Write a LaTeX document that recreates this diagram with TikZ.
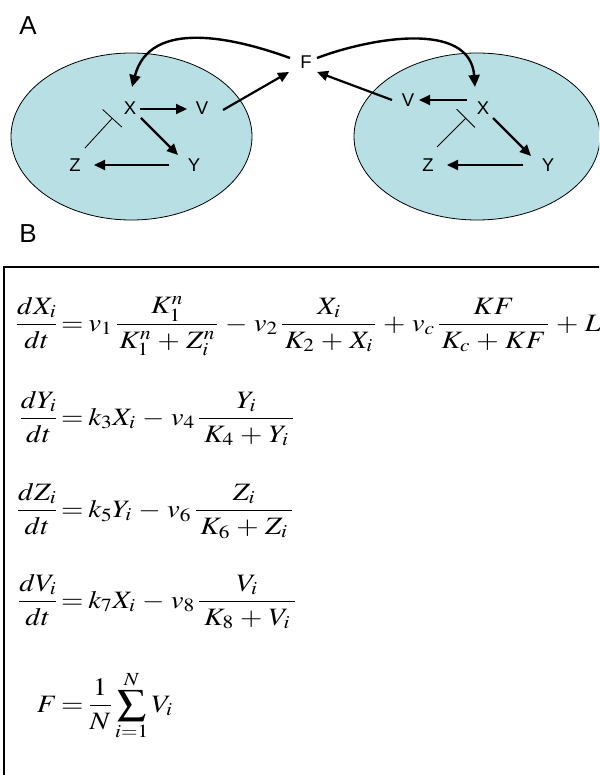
\documentclass[tikz,border=0pt]{standalone}
\usepackage{graphicx}
\usepackage{mathptmx}
\usepackage[no-math]{fontspec}
\newfontfamily\arial{Liberation Sans}
\usetikzlibrary{arrows.meta,calc}
\definecolor{cellfill}{RGB}{184,223,227}
\newcommand{\mfr}[2]{\frac{\mkern3mu #1\mkern3mu}{\mkern3mu #2\mkern3mu}}
\newcommand{\mfrs}[2]{\frac{\mkern1.5mu #1\mkern1.5mu}{\mkern1.5mu #2\mkern1.5mu}}
\newcommand{\eqx}[1]{\scalebox{1.15}[1]{$\displaystyle\medmuskip=4mu\thickmuskip=3mu #1$}}
\begin{document}
\begin{tikzpicture}[x=1pt,y=-1pt,
  lbl/.style={font=\arial\fontsize{18.5}{20}\selectfont, inner sep=0pt},
  big/.style={font=\arial\fontsize{26}{30}\selectfont, inner sep=0pt},
  act/.style={line width=2.2pt, -{Triangle[length=11pt,width=10pt]}},
  fb/.style={line width=2.4pt, -{Triangle[length=12pt,width=11pt]}},
  inhib/.style={line width=0.8pt, -{Bar[width=26pt,line width=0.8pt]}},
  cell/.style={draw=black, line width=0.8pt, fill=cellfill},
  eql/.style={font=\fontsize{25}{30}\selectfont, inner sep=0pt, anchor=base east},
  eqr/.style={font=\fontsize{25}{30}\selectfont, inner sep=0pt, anchor=base west}]
\useasboundingbox (0,0) rectangle (599,775);
\clip (0,0) rectangle (599,775);

% panel labels
\node[big] (lA) at (28,26) {A};
\node[big] (lB) at (28,234) {B};

% cells
\draw[cell] (131.5,136.5) ellipse [x radius=120.5pt, y radius=83.5pt];
\draw[cell] (477,136.5) ellipse [x radius=123pt, y radius=83.5pt];

% left cell
\node[lbl] (X1) at (130,108) {X};
\node[lbl] (V1) at (202,108) {V};
\node[lbl] (Y1) at (194,165) {Y};
\node[lbl] (Z1) at (75,165) {Z};
% right cell
\node[lbl] (X2) at (483,108) {X};
\node[lbl] (V2) at (408,100) {V};
\node[lbl] (Y2) at (548,165) {Y};
\node[lbl] (Z2) at (428,165) {Z};
% mean field
\node[lbl] (F) at (306,62) {F};

% left connectors
\draw[act] ($(X1)+(10,1)$) -- ($(V1)+(-15,1)$);
\draw[act] ($(X1)+(11,10)$) -- ($(Y1)+(-16,-10)$);
\draw[act] ($(Y1)+(-25,0)$) -- ($(Z1)+(19,0)$);
\draw[inhib] ($(Z1)+(10,-17)$) -- ($(X1)+(-17.5,10)$);
\draw[act] ($(V1)+(21,2)$) -- ($(F)+(-17,10)$);
\draw[fb] ($(F)+(-16,-4)$) .. controls ($(F)+(-71,-24)$) and ($(X1)+(20,-90)$) .. ($(X1)+(2,-21)$);

% right connectors
\draw[act] ($(X2)+(-16,-8)$) -- ($(V2)+(11,0)$);
\draw[act] ($(X2)+(10,10)$) -- ($(Y2)+(-17,-9)$);
\draw[act] ($(Y2)+(-25,0)$) -- ($(Z2)+(19,0)$);
\draw[inhib] ($(Z2)+(9,-18)$) -- ($(X2)+(-17,10)$);
\draw[act] ($(V2)+(-16,0)$) -- ($(F)+(11,10)$);
\draw[fb] ($(F)+(11,-4)$) .. controls ($(F)+(64,-24)$) and ($(X2)+(-13,-88)$) .. ($(X2)+(-8,-21)$);

% equation box
\draw[line width=1.8pt] (4,780) -- (4,267) -- (605,267);

% equations
\node[eql] (l1) at (58,331) {\eqx{\frac{dX_i}{dt}}};
\node[eqr] (r1) at (61,331) {\eqx{= v_1\,\mfrs{K_1^n}{K_1^n+Z_i^n}-v_2\,\mfrs{X_i}{K_2+X_i}+v_c\,\mfrs{KF}{K_c+KF}+L}};
\node[eql] (l2) at (58,425) {\eqx{\frac{dY_i}{dt}}};
\node[eqr] (r2) at (61,425) {\eqx{= k_3X_i-v_4\,\mfr{Y_i}{K_4+Y_i}}};
\node[eql] (l3) at (58,517) {\eqx{\frac{dZ_i}{dt}}};
\node[eqr] (r3) at (61,517) {\eqx{= k_5Y_i-v_6\,\mfr{Z_i}{K_6+Z_i}}};
\node[eql] (l4) at (58,608) {\eqx{\frac{dV_i}{dt}}};
\node[eqr] (r4) at (61,608) {\eqx{= k_7X_i-v_8\,\mfr{V_i}{K_8+V_i}}};
\node[eql] (l5) at (57,712) {\eqx{F}};
\node[eqr] (r5) at (61,712) {\eqx{= \frac{1}{N}\sum_{i=1}^{N}V_i}};
\end{tikzpicture}
\end{document}
